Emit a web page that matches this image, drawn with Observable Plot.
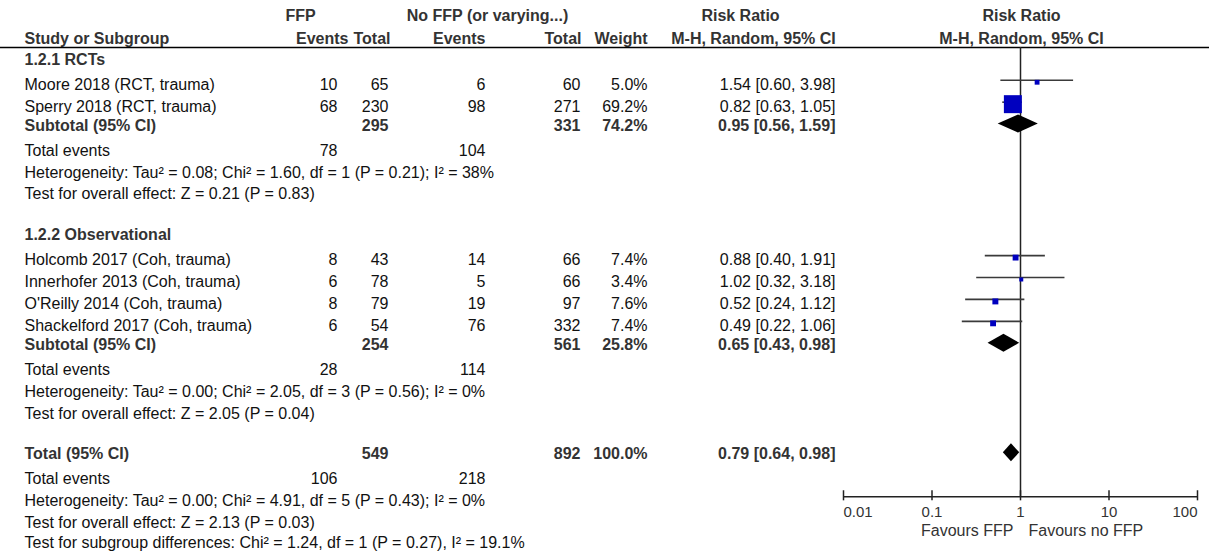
<!DOCTYPE html>
<html>
<head>
<meta charset="utf-8">
<script src="https://cdn.jsdelivr.net/npm/d3@7"></script>
<script src="https://cdn.jsdelivr.net/npm/@observablehq/plot@0.6"></script>
<style>
  html, body { margin: 0; padding: 0; background: #fff; }
  #chart svg { display: block; }
</style>
</head>
<body>
<div id="chart"></div>
<script>
// ---------------- DATA ----------------
const subgroups = ["1.2.1 RCTs", "1.2.2 Observational"];
const studies = [
  "Moore 2018 (RCT, trauma)",
  "Sperry 2018 (RCT, trauma)",
  "Holcomb 2017 (Coh, trauma)",
  "Innerhofer 2013 (Coh, trauma)",
  "O'Reilly 2014 (Coh, trauma)",
  "Shackelford 2017 (Coh, trauma)"
];
const studyGroup = [0, 0, 1, 1, 1, 1];
const ffpEvents = [10, 68, 8, 6, 8, 6];
const ffpTotal = [65, 230, 43, 78, 79, 54];
const noFfpEvents = [6, 98, 14, 5, 19, 76];
const noFfpTotal = [60, 271, 66, 66, 97, 332];
const weights = [5.0, 69.2, 7.4, 3.4, 7.6, 7.4];
const riskRatio = [1.54, 0.82, 0.88, 1.02, 0.52, 0.49];
const ciLow = [0.60, 0.63, 0.40, 0.32, 0.24, 0.22];
const ciHigh = [3.98, 1.05, 1.91, 3.18, 1.12, 1.06];

const pooledLabels = ["Subtotal (95% CI)", "Subtotal (95% CI)", "Total (95% CI)"];
const pooledFfpTotal = [295, 254, 549];
const pooledNoFfpTotal = [331, 561, 892];
const pooledWeight = [74.2, 25.8, 100.0];
const pooledRR = [0.95, 0.65, 0.79];
const pooledLow = [0.56, 0.43, 0.64];
const pooledHigh = [1.59, 0.98, 0.98];
const totalEventsFfp = [78, 28, 106];
const totalEventsNoFfp = [104, 114, 218];
const heterogeneity = [
  "Heterogeneity: Tau² = 0.08; Chi² = 1.60, df = 1 (P = 0.21); I² = 38%",
  "Heterogeneity: Tau² = 0.00; Chi² = 2.05, df = 3 (P = 0.56); I² = 0%",
  "Heterogeneity: Tau² = 0.00; Chi² = 4.91, df = 5 (P = 0.43); I² = 0%"
];
const overallEffect = [
  "Test for overall effect: Z = 0.21 (P = 0.83)",
  "Test for overall effect: Z = 2.05 (P = 0.04)",
  "Test for overall effect: Z = 2.13 (P = 0.03)"
];
const subgroupDifferences = "Test for subgroup differences: Chi² = 1.24, df = 1 (P = 0.27), I² = 19.1%";
const totalEventsLabel = "Total events";

const groupHeaders = ["FFP", "No FFP (or varying...)", "Risk Ratio", "Risk Ratio"];
const columnHeaders = ["Study or Subgroup", "Events", "Total", "Events", "Total", "Weight", "M-H, Random, 95% CI", "M-H, Random, 95% CI"];
const axisTicks = [0.01, 0.1, 1, 10, 100];
const axisTickLabels = ["0.01", "0.1", "1", "10", "100"];
const favoursLabels = ["Favours FFP", "Favours no FFP"];

// ---------------- LAYOUT ----------------
const rowKeys = ["h1", "h2"];
subgroups.forEach((g, gi) => {
  rowKeys.push("g" + gi);
  studies.forEach((s, i) => { if (studyGroup[i] === gi) rowKeys.push("s" + i); });
  rowKeys.push("p" + gi, "ev" + gi, "het" + gi, "oe" + gi, "gap" + gi);
});
rowKeys.push("p2", "ev2", "het2", "oe2", "sd");
const row = k => rowKeys.indexOf(k);

// column anchor positions (px) and anchors
const COL = {study: 24, ffpEv: 337, ffpTot: 388, noEv: 485, noTot: 580, weight: 647, rr: 835};
const HDR = {ffp: 300, noffp: 487, rr: 740, rrSub: 753, ffpEv: 348, ffpTot: 390, noEv: 485, noTot: 581, weight: 647, forest: 1021};

const REG = "#111";
const BOLD = "#333";
const regDy = 4.5, boldDy = 1.5;

// derived row tables
const studyRows = studies.map((s, i) => ({i, y: row("s" + i)}));
const pooledRows = pooledLabels.map((l, j) => ({j, y: row("p" + j)}));
const eventRows = totalEventsFfp.map((v, j) => ({j, y: row("ev" + j)}));
const hetRows = heterogeneity.map((t, j) => ({text: t, y: row("het" + j)}));
const oeRows = overallEffect.map((t, j) => ({text: t, y: row("oe" + j)}));
const groupRows = subgroups.map((g, gi) => ({text: g, y: row("g" + gi)}));
const halfH = 0.41;
const diamondPts = pooledRows.flatMap(d => [
  {j: d.j, y: d.y - halfH, x1: pooledRR[d.j], x2: pooledRR[d.j]},
  {j: d.j, y: d.y, x1: pooledLow[d.j], x2: pooledHigh[d.j]},
  {j: d.j, y: d.y + halfH, x1: pooledRR[d.j], x2: pooledRR[d.j]}
]);

function T(data, opts) {
  return Plot.text(data, {frameAnchor: "left", lineAnchor: "middle", ...opts});
}
function reg(data, opts) { return T(data, {fill: REG, dy: regDy, ...opts}); }
function bold(data, opts) { return T(data, {fill: BOLD, dy: boldDy, fontWeight: "bold", ...opts}); }

const fmtW = w => w.toFixed(1) + "%";
const fmtRR = (r, l, h) => `${r.toFixed(2)} [${l.toFixed(2)}, ${h.toFixed(2)}]`;
const axisY = row("het2");

const chart = Plot.plot({
  width: 1209,
  height: 557,
  margin: 0,
  x: {type: "log", domain: [axisTicks[0], axisTicks[axisTicks.length - 1]], range: [843, 1197], axis: null},
  y: {type: "linear", domain: [0, rowKeys.length - 1], range: [14, 540], axis: null},
  r: {type: "sqrt", domain: [0, 100], range: [0, 12.2]},
  style: {fontFamily: "'Liberation Sans', Arial, Helvetica, sans-serif", fontSize: "16px", background: "#fff", overflow: "visible"},
  marks: [
    // headers
    bold([{t: groupHeaders[0]}], {y: () => row("h1"), text: "t", dx: HDR.ffp, textAnchor: "middle", dy: 1}),
    bold([{t: groupHeaders[1]}], {y: () => row("h1"), text: "t", dx: HDR.noffp, textAnchor: "middle", dy: 1}),
    bold([{t: groupHeaders[2]}], {y: () => row("h1"), text: "t", dx: HDR.rr, textAnchor: "middle", dy: 1}),
    bold([{t: groupHeaders[3]}], {y: () => row("h1"), text: "t", dx: HDR.forest, textAnchor: "middle", dy: 1}),
    bold([{t: columnHeaders[0]}], {y: () => row("h2"), text: "t", dx: COL.study, textAnchor: "start", dy: 2}),
    bold([{t: columnHeaders[1]}], {y: () => row("h2"), text: "t", dx: HDR.ffpEv, textAnchor: "end", dy: 2}),
    bold([{t: columnHeaders[2]}], {y: () => row("h2"), text: "t", dx: HDR.ffpTot, textAnchor: "end", dy: 2}),
    bold([{t: columnHeaders[3]}], {y: () => row("h2"), text: "t", dx: HDR.noEv, textAnchor: "end", dy: 2}),
    bold([{t: columnHeaders[4]}], {y: () => row("h2"), text: "t", dx: HDR.noTot, textAnchor: "end", dy: 2}),
    bold([{t: columnHeaders[5]}], {y: () => row("h2"), text: "t", dx: HDR.weight, textAnchor: "end", dy: 2}),
    bold([{t: columnHeaders[6]}], {y: () => row("h2"), text: "t", dx: HDR.rrSub, textAnchor: "middle", dy: 2}),
    bold([{t: columnHeaders[7]}], {y: () => row("h2"), text: "t", dx: HDR.forest, textAnchor: "middle", dy: 2}),
    // header rule
    Plot.ruleY([row("h2") + 0.5], {y: d => d, stroke: "#000", strokeWidth: 1.5}),

    // subgroup headings
    bold(groupRows, {y: "y", text: "text", dx: COL.study, textAnchor: "start"}),

    // study rows
    reg(studyRows, {y: "y", text: d => studies[d.i], dx: COL.study, textAnchor: "start"}),
    reg(studyRows, {y: "y", text: d => String(ffpEvents[d.i]), dx: COL.ffpEv, textAnchor: "end"}),
    reg(studyRows, {y: "y", text: d => String(ffpTotal[d.i]), dx: COL.ffpTot, textAnchor: "end"}),
    reg(studyRows, {y: "y", text: d => String(noFfpEvents[d.i]), dx: COL.noEv, textAnchor: "end"}),
    reg(studyRows, {y: "y", text: d => String(noFfpTotal[d.i]), dx: COL.noTot, textAnchor: "end"}),
    reg(studyRows, {y: "y", text: d => fmtW(weights[d.i]), dx: COL.weight, textAnchor: "end"}),
    reg(studyRows, {y: "y", text: d => fmtRR(riskRatio[d.i], ciLow[d.i], ciHigh[d.i]), dx: COL.rr, textAnchor: "end"}),

    // pooled rows
    bold(pooledRows, {y: "y", text: d => pooledLabels[d.j], dx: COL.study, textAnchor: "start"}),
    bold(pooledRows, {y: "y", text: d => String(pooledFfpTotal[d.j]), dx: COL.ffpTot, textAnchor: "end"}),
    bold(pooledRows, {y: "y", text: d => String(pooledNoFfpTotal[d.j]), dx: COL.noTot, textAnchor: "end"}),
    bold(pooledRows, {y: "y", text: d => fmtW(pooledWeight[d.j]), dx: COL.weight, textAnchor: "end"}),
    bold(pooledRows, {y: "y", text: d => fmtRR(pooledRR[d.j], pooledLow[d.j], pooledHigh[d.j]), dx: COL.rr, textAnchor: "end"}),

    // total events
    reg(eventRows, {y: "y", text: () => totalEventsLabel, dx: COL.study, textAnchor: "start"}),
    reg(eventRows, {y: "y", text: d => String(totalEventsFfp[d.j]), dx: COL.ffpEv, textAnchor: "end"}),
    reg(eventRows, {y: "y", text: d => String(totalEventsNoFfp[d.j]), dx: COL.noEv, textAnchor: "end"}),

    // heterogeneity and tests
    reg(hetRows, {y: "y", text: "text", dx: COL.study, textAnchor: "start"}),
    reg(oeRows, {y: "y", text: "text", dx: COL.study, textAnchor: "start"}),
    reg([{t: subgroupDifferences}], {y: () => row("sd"), text: "t", dx: COL.study, textAnchor: "start", dy: 2}),

    // forest: line of no effect
    Plot.ruleX([1], {x: d => d, y1: () => row("h2") + 0.5, y2: () => axisY, stroke: "#222", strokeWidth: 1.5}),
    // CI lines
    Plot.ruleY(studyRows, {y: "y", x1: d => ciLow[d.i], x2: d => ciHigh[d.i], stroke: "#3a3a3a", strokeWidth: 1.6}),
    // squares
    Plot.dot(studyRows, {x: d => riskRatio[d.i], y: "y", r: d => weights[d.i], symbol: "square", fill: "#0000bf", stroke: "none", dy: 2}),
    // diamonds
    Plot.areaX(diamondPts, {y: "y", x1: "x1", x2: "x2", z: "j", fill: "#000", stroke: "none"}),

    // axis
    Plot.ruleY([axisY], {y: d => d, x1: () => axisTicks[0], x2: () => axisTicks[axisTicks.length - 1], stroke: "#222", strokeWidth: 1.5}),
    Plot.ruleX(axisTicks, {x: d => d, y1: () => axisY - 0.27, y2: () => axisY + 0.19, stroke: "#222", strokeWidth: 1.5}),
    Plot.text(axisTicks.slice(0, 1), {x: d => d, y: () => axisY, text: (d, i) => axisTickLabels[0], textAnchor: "start", dy: 16, fontSize: 15, fill: BOLD}),
    Plot.text(axisTicks.slice(1, -1), {x: d => d, y: () => axisY, text: (d, i) => axisTickLabels[i + 1], textAnchor: "middle", dy: 16, fontSize: 15, fill: BOLD}),
    Plot.text(axisTicks.slice(-1), {x: d => d, y: () => axisY, text: () => axisTickLabels[axisTickLabels.length - 1], textAnchor: "end", dy: 16, fontSize: 15, fill: BOLD}),
    Plot.text([favoursLabels[0]], {x: () => 1, y: () => axisY, text: d => d, textAnchor: "end", dx: -7, dy: 34, fontSize: 16, fill: BOLD}),
    Plot.text([favoursLabels[1]], {x: () => 1, y: () => axisY, text: d => d, textAnchor: "start", dx: 8, dy: 34, fontSize: 16, fill: BOLD})
  ]
});
document.getElementById("chart").appendChild(chart);
</script>
</body>
</html>
